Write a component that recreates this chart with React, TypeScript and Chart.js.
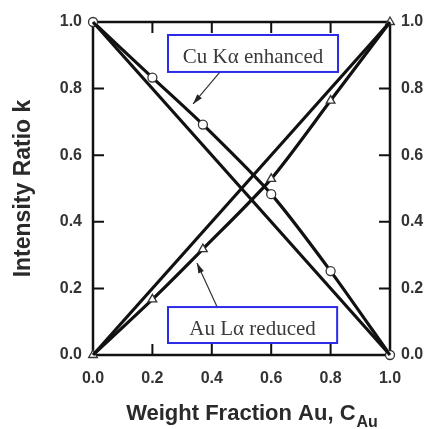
import React, { useEffect, useRef } from "react";
import { Chart, registerables } from "chart.js";

Chart.register(...registerables);

// ---- data ----
const fractionAu = [0, 0.2, 0.37, 0.6, 0.8, 1.0];
const cuKaMeasured = [1.0, 0.833, 0.692, 0.483, 0.252, 0.0];
const auLaMeasured = [0.0, 0.167, 0.318, 0.529, 0.764, 1.0];
const linearEnds = [0, 1];
const cuLinear = [1, 0];
const auLinear = [0, 1];
const tickValues = [0, 0.2, 0.4, 0.6, 0.8, 1.0];
const cuLabel = "Cu K\u03b1 enhanced";
const auLabel = "Au L\u03b1 reduced";
const xTitleMain = "Weight Fraction Au, C";
const xTitleSub = "Au";
const yTitle = "Intensity Ratio k";

// ---- annotation placement (data units) ----
const cuBox = { x0: 0.2525, x1: 0.825, y0: 0.85, y1: 0.961 };
const auBox = { x0: 0.2525, x1: 0.822, y0: 0.036, y1: 0.144 };
const cuArrow = { x0: 0.428, y0: 0.85, x1: 0.337, y1: 0.754 };
const auArrow = { x0: 0.418, y0: 0.144, x1: 0.35, y1: 0.276 };

const SANS = "'Liberation Sans', Arial, Helvetica, sans-serif";
const SERIF = "'Liberation Serif', 'Times New Roman', serif";

const toPts = (xs: number[], ys: number[]) => xs.map((x, i) => ({ x, y: ys[i] }));

const decorPlugin = {
  id: "decor",
  beforeDatasetsDraw(chart: any) {
    const { ctx, chartArea: a, scales } = chart;
    ctx.save();
    ctx.strokeStyle = "#111";
    ctx.lineWidth = 2;
    const tl = 11;
    tickValues.slice(1, -1).forEach((v) => {
      const px = scales.x.getPixelForValue(v);
      const py = scales.y.getPixelForValue(v);
      ctx.beginPath();
      ctx.moveTo(px, a.bottom);
      ctx.lineTo(px, a.bottom - tl);
      ctx.moveTo(px, a.top);
      ctx.lineTo(px, a.top + tl);
      ctx.moveTo(a.left, py);
      ctx.lineTo(a.left + tl, py);
      ctx.moveTo(a.right, py);
      ctx.lineTo(a.right - tl, py);
      ctx.stroke();
    });
    ctx.lineWidth = 2.5;
    ctx.strokeRect(a.left, a.top, a.right - a.left, a.bottom - a.top);
    ctx.restore();
  },
  afterDatasetsDraw(chart: any) {
    const { ctx, scales } = chart;
    const X = (v: number) => scales.x.getPixelForValue(v);
    const Y = (v: number) => scales.y.getPixelForValue(v);
    ctx.save();

    const drawArrow = (ar: any) => {
      const x0 = X(ar.x0), y0 = Y(ar.y0), x1 = X(ar.x1), y1 = Y(ar.y1);
      ctx.strokeStyle = "#333";
      ctx.fillStyle = "#222";
      ctx.lineWidth = 1.2;
      ctx.beginPath();
      ctx.moveTo(x0, y0);
      ctx.lineTo(x1, y1);
      ctx.stroke();
      const ang = Math.atan2(y1 - y0, x1 - x0);
      const L = 10, W = 3;
      ctx.beginPath();
      ctx.moveTo(x1, y1);
      ctx.lineTo(x1 - L * Math.cos(ang) + W * Math.sin(ang), y1 - L * Math.sin(ang) - W * Math.cos(ang));
      ctx.lineTo(x1 - L * Math.cos(ang) - W * Math.sin(ang), y1 - L * Math.sin(ang) + W * Math.cos(ang));
      ctx.closePath();
      ctx.fill();
    };

    const drawBox = (b: any, text: string) => {
      const l = X(b.x0), r = X(b.x1), t = Y(b.y1), btm = Y(b.y0);
      ctx.fillStyle = "#fff";
      ctx.fillRect(l, t, r - l, btm - t);
      ctx.strokeStyle = "#2b2be8";
      ctx.lineWidth = 2;
      ctx.strokeRect(l, t, r - l, btm - t);
      ctx.fillStyle = "#3a3a3a";
      ctx.font = `21px ${SERIF}`;
      ctx.textAlign = "center";
      ctx.textBaseline = "alphabetic";
      ctx.fillText(text, (l + r) / 2, btm - 8.5);
    };

    drawArrow(cuArrow);
    drawArrow(auArrow);
    drawBox(cuBox, cuLabel);
    drawBox(auBox, auLabel);

    ctx.fillStyle = "#2a2a2a";
    ctx.textAlign = "left";
    ctx.textBaseline = "alphabetic";
    ctx.font = `bold 22px ${SANS}`;
    const wMain = ctx.measureText(xTitleMain).width;
    ctx.font = `bold 16px ${SANS}`;
    const wSub = ctx.measureText(xTitleSub).width;
    const total = wMain + 1 + wSub;
    const start = 252 - total / 2;
    ctx.font = `bold 22px ${SANS}`;
    ctx.fillText(xTitleMain, start, 420);
    ctx.font = `bold 16px ${SANS}`;
    ctx.fillText(xTitleSub, start + wMain + 1, 427);
    ctx.restore();
  },
};

export default function App() {
  const ref = useRef<HTMLCanvasElement | null>(null);

  useEffect(() => {
    if (!ref.current) return;
    const tickFont = { family: SANS, size: 16, weight: "bold" as const };
    const setTicks = (s: any) => {
      s.ticks = tickValues.map((v) => ({ value: v }));
    };
    const fmt = (v: any) => Number(v).toFixed(1);
    const lineW = 3.2;

    const chart = new Chart(ref.current, {
      type: "line",
      data: {
        datasets: [
          {
            label: "Cu linear",
            data: toPts(linearEnds, cuLinear),
            borderColor: "#111",
            borderWidth: lineW,
            pointRadius: 0,
            fill: false,
            clip: false as any,
          },
          {
            label: "Au linear",
            data: toPts(linearEnds, auLinear),
            borderColor: "#111",
            borderWidth: lineW,
            pointRadius: 0,
            fill: false,
            clip: false as any,
          },
          {
            label: cuLabel,
            data: toPts(fractionAu, cuKaMeasured),
            borderColor: "#111",
            borderWidth: lineW,
            tension: 0.25,
            pointStyle: "circle",
            pointRadius: 4.5,
            pointBackgroundColor: "#fff",
            pointBorderColor: "#333",
            pointBorderWidth: 1.3,
            fill: false,
            clip: false as any,
          },
          {
            label: auLabel,
            data: toPts(fractionAu, auLaMeasured),
            borderColor: "#111",
            borderWidth: lineW,
            tension: 0.25,
            pointStyle: "triangle",
            pointRadius: 5,
            pointBackgroundColor: "#fff",
            pointBorderColor: "#333",
            pointBorderWidth: 1.3,
            fill: false,
            clip: false as any,
          },
        ],
      },
      options: {
        responsive: false,
        animation: false,
        devicePixelRatio: 1,
        layout: { padding: { top: 22, left: 0, right: 0, bottom: 0 } },
        plugins: { legend: { display: false }, tooltip: { enabled: false } },
        scales: {
          x: {
            type: "linear",
            min: 0,
            max: 1,
            afterBuildTicks: setTicks,
            afterFit: (s: any) => {
              s.height = 74;
            },
            grid: { display: false, drawTicks: false },
            border: { display: false },
            ticks: { callback: fmt, font: tickFont, color: "#333", padding: 14, maxRotation: 0 },
          },
          y: {
            type: "linear",
            position: "left",
            min: 0,
            max: 1,
            afterBuildTicks: setTicks,
            afterFit: (s: any) => {
              s.width = 93;
            },
            grid: { display: false, drawTicks: false },
            border: { display: false },
            ticks: { callback: fmt, font: tickFont, color: "#333", padding: 11 },
            title: {
              display: true,
              text: yTitle,
              color: "#2a2a2a",
              font: { family: SANS, size: 23, weight: "bold" },
              padding: { top: 10, bottom: 0 },
            },
          },
          y2: {
            type: "linear",
            position: "right",
            min: 0,
            max: 1,
            afterBuildTicks: setTicks,
            afterFit: (s: any) => {
              s.width = 37;
            },
            grid: { display: false, drawTicks: false },
            border: { display: false },
            ticks: { callback: fmt, font: tickFont, color: "#333", padding: 11 },
          },
        },
      },
      plugins: [decorPlugin],
    });
    return () => chart.destroy();
  }, []);

  return (
    <div style={{ position: "absolute", left: 0, top: 0, width: 427, height: 429, background: "#fff" }}>
      <canvas ref={ref} width={427} height={429} style={{ display: "block" }} />
    </div>
  );
}
